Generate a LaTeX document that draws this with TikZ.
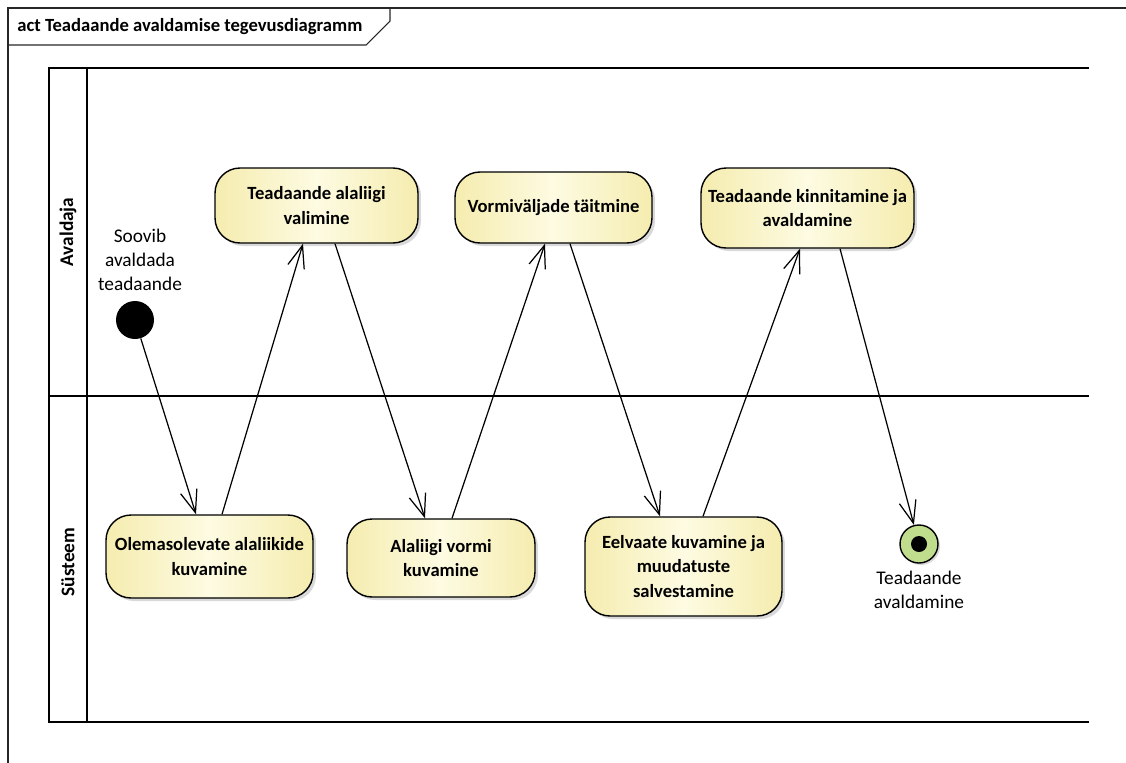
\documentclass[tikz,border=0pt]{standalone}
\usepackage{fontspec}
\setmainfont{Carlito}
\usepackage{tikz}
\usetikzlibrary{arrows.meta}
\usetikzlibrary{calc}
\usetikzlibrary{shadows}
\usepackage{xcolor}
\definecolor{ColSide}{RGB}{245,236,175}
\definecolor{ColMid}{RGB}{253,251,226}
\definecolor{ColFin}{RGB}{192,221,142}
\tikzstyle{ActNode}=[rounded corners=0.5cm,draw=black,line width=0.8pt,left color=ColSide,right color=ColSide,middle color=ColMid,
drop shadow={shadow xshift=0.06cm,shadow yshift=-0.06cm,opacity=0.3,fill=black!50},align=center,inner sep=2pt,
font=\fontsize{10.6}{14.2}\selectfont\bfseries]
\tikzstyle{FlowEdge}=[line width=0.7pt,-{Straight Barb[length=0.45cm,width=0.34cm]}]
\tikzstyle{LaneLine}=[line width=1pt]
\tikzstyle{LaneLabel}=[rotate=90,inner sep=0pt,font=\fontsize{11}{13}\selectfont\bfseries]
\tikzstyle{PlainText}=[align=center,inner sep=0pt,font=\fontsize{11}{13.6}\selectfont]
\begin{document}
\begin{tikzpicture}[x=0.02cm,y=-0.02cm]
        \useasboundingbox(0,0)rectangle(1126,762);
        \draw[line width=0.6pt,black!85](1140,8)--(8,8)--(8,780);
        \draw[line width=0.6pt,black!85](8,45)--(366,45)--(390,21)--(390,8);
        \node[anchor=west,inner sep=0pt,font=\fontsize{10.6}{12}\selectfont\bfseries](title)at(17,27){act Teadaande avaldamise tegevusdiagramm};
        \draw[LaneLine](1089,68)--(49,68)--(49,722)--(1089,722);
        \draw[LaneLine](49,396)--(1089,396);
        \draw[LaneLine](87,68)--(87,722);
        \node[LaneLabel](avaldaja)at(68,232){Avaldaja};
        \node[LaneLabel](susteem)at(68,562){Süsteem};
        \node[circle,fill=black,minimum size=0.76cm,inner sep=0pt](start)at(135,320){};
        \node[PlainText](soovib)at(140,260){Soovib\\avaldada\\teadaande};
        \node[ActNode,minimum width=4.06cm,minimum height=1.5cm](valimine)at(316.5,205.5){Teadaande alaliigi\\valimine};
        \node[ActNode,minimum width=3.94cm,minimum height=1.42cm](taitmine)at(553.5,207.5){Vormiväljade täitmine};
        \node[ActNode,minimum width=4.26cm,minimum height=1.6cm](kinnitamine)at(807.5,208){Teadaande kinnitamine ja\\avaldamine};
        \node[ActNode,minimum width=4.14cm,minimum height=1.66cm](olemas)at(209.5,556.5){Olemasolevate alaliikide\\kuvamine};
        \node[ActNode,minimum width=3.76cm,minimum height=1.56cm](vormi)at(441,558){Alaliigi vormi\\kuvamine};
        \node[ActNode,minimum width=3.94cm,minimum height=1.98cm](eelvaade)at(683.5,566.5){Eelvaate kuvamine ja\\muudatuste\\salvestamine};
        \node[circle,draw=black,line width=0.8pt,fill=ColFin,minimum size=0.76cm,inner sep=0pt,
        drop shadow={shadow xshift=0.04cm,shadow yshift=-0.04cm,opacity=0.3,fill=black!50}](fin)at(919,544){};
        \fill(fin.center)circle(0.16cm);
        \node[PlainText](avaldatud)at(919,590){Teadaande\\avaldamine};
        \draw[FlowEdge](start)--($(olemas.north)+(-13.5,0)$);
        \draw[FlowEdge]($(olemas.north)+(12.5,0)$)--($(valimine.south)+(-13.5,0)$);
        \draw[FlowEdge]($(valimine.south)+(18.5,0)$)--($(vormi.north)+(-16,0)$);
        \draw[FlowEdge]($(vormi.north)+(11,0)$)--($(taitmine.south)+(-8.5,0)$);
        \draw[FlowEdge]($(taitmine.south)+(16.5,0)$)--($(eelvaade.north)+(-23.5,0)$);
        \draw[FlowEdge]($(eelvaade.north)+(19.5,0)$)--($(kinnitamine.south)+(-7.5,0)$);
        \draw[FlowEdge]($(kinnitamine.south)+(32.5,0)$)--(fin);
    \end{tikzpicture}
\end{document}
